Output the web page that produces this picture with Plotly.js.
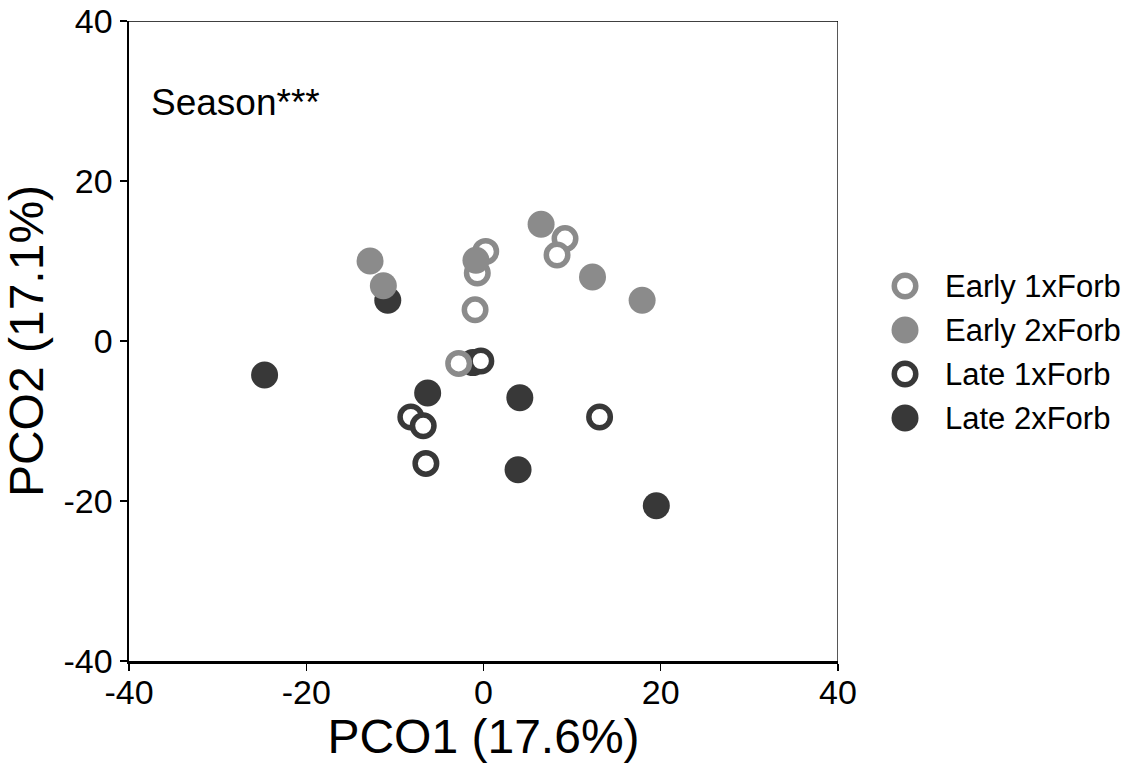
<!DOCTYPE html>
<html>
<head>
<meta charset="utf-8">
<script src="https://cdn.plot.ly/plotly-3.0.1.min.js"></script>
<style>html,body{margin:0;padding:0;background:#fff;}#chart{width:1128px;height:763px;}</style>
</head>
<body>
<div id="chart"></div>
<script>
// Data
const groupNames = ["Early 1xForb", "Early 2xForb", "Late 1xForb", "Late 2xForb"];
const early1x_x = [0.25, -0.7, 9.2, 8.3, -0.95, -2.8];
const early1x_y = [11.2, 8.5, 12.8, 10.75, 3.9, -2.8];
const early2x_x = [-12.8, -11.3, -0.85, 6.5, 12.3, 17.9];
const early2x_y = [10.0, 6.9, 10.1, 14.6, 8.0, 5.1];
const late1x_x = [-0.3, -8.2, -6.8, -6.5, 13.1];
const late1x_y = [-2.5, -9.5, -10.6, -15.3, -9.5];
const late2x_x = [-10.8, -24.7, -6.3, 4.1, 3.9, 19.5, -1.2];
const late2x_y = [5.1, -4.25, -6.5, -7.1, -16.1, -20.6, -2.7];
const tickVals = [-40, -20, 0, 20, 40];
const tickText = ["-40", "-20", "0", "20", "40"];

const LIGHT = "#8b8b8b";
const DARK = "#383838";
const FONT = "Liberation Sans, Arial, sans-serif";

const styles = [
  {open: true, color: LIGHT},
  {open: false, color: LIGHT},
  {open: true, color: DARK},
  {open: false, color: DARK}
];

function markerFor(s) {
  if (s.open) {
    return {symbol: "circle", size: 21.5, color: "#ffffff", line: {color: s.color, width: 5.5}};
  }
  return {symbol: "circle", size: 27, color: s.color, line: {width: 0}};
}

const series = [
  {x: early1x_x, y: early1x_y},
  {x: early2x_x, y: early2x_y},
  {x: late1x_x, y: late1x_y},
  {x: late2x_x, y: late2x_y}
];

// draw order: Late 2x, Late 1x, Early 1x, Early 2x
const drawOrder = [3, 2, 0, 1];
const traces = drawOrder.map(i => ({
  type: "scatter", mode: "markers",
  x: series[i].x, y: series[i].y,
  name: groupNames[i],
  marker: markerFor(styles[i]),
  xaxis: "x", yaxis: "y",
  showlegend: false, hoverinfo: "skip", cliponaxis: false
}));

// custom legend on a small auxiliary axis (one row per group)
groupNames.forEach((n, i) => {
  traces.push({
    type: "scatter", mode: "markers",
    x: [0], y: [i],
    marker: markerFor(styles[i]),
    xaxis: "x2", yaxis: "y2",
    showlegend: false, hoverinfo: "skip", cliponaxis: false
  });
});

const annotations = groupNames.map((n, i) => ({
  text: n, xref: "paper", yref: "y2", x: 0.8148, y: i,
  xanchor: "left", yanchor: "middle", showarrow: false,
  font: {family: FONT, size: 31, color: "#000"}
}));
annotations.push({
  text: "Season***", xref: "x", yref: "y", x: -37.8, y: 29.8,
  xanchor: "left", yanchor: "middle", showarrow: false,
  font: {family: FONT, size: 37, color: "#000"}
});

const layout = {
  width: 1128, height: 763,
  margin: {l: 129, r: 0, t: 21, b: 102},
  paper_bgcolor: "#fff", plot_bgcolor: "#fff",
  showlegend: false,
  font: {family: FONT, color: "#000"},
  xaxis: {
    domain: [0, 0.7097], range: [-40, 40],
    tickvals: tickVals, ticktext: tickText,
    ticks: "outside", ticklen: 7, tickwidth: 1.5, tickcolor: "#000",
    ticklabelstandoff: -7,
    showline: true, linewidth: 2.5, linecolor: "#000",
    showgrid: false, zeroline: false,
    tickfont: {family: FONT, size: 34, color: "#000"},
    title: {text: "PCO1 (17.6%)", font: {family: FONT, size: 48, color: "#000"}, standoff: 4},
    automargin: false, fixedrange: true
  },
  yaxis: {
    domain: [0, 1], range: [-40, 40],
    tickvals: tickVals, ticktext: tickText,
    ticks: "outside", ticklen: 7, tickwidth: 1.5, tickcolor: "#000",
    showline: true, linewidth: 2.5, linecolor: "#000",
    showgrid: false, zeroline: false,
    tickfont: {family: FONT, size: 34, color: "#000"},
    title: {text: "PCO2 (17.1%)", font: {family: FONT, size: 48, color: "#000"}, standoff: 8},
    automargin: false, fixedrange: true
  },
  xaxis2: {
    domain: [0.7568, 0.7968], range: [-1, 1], anchor: "y2",
    visible: false, fixedrange: true
  },
  yaxis2: {
    domain: [0.3453, 0.6203], range: [3.5, -0.5], anchor: "x2",
    visible: false, fixedrange: true
  },
  shapes: [
    {type: "line", xref: "x", yref: "y", x0: -40, x1: 40, y0: 40, y1: 40, line: {color: "#000", width: 1.3}},
    {type: "line", xref: "x", yref: "y", x0: 40, x1: 40, y0: -40, y1: 40, line: {color: "#000", width: 1.3}}
  ],
  annotations: annotations
};

Plotly.newPlot("chart", traces, layout, {staticPlot: true, displayModeBar: false});
</script>
</body>
</html>
